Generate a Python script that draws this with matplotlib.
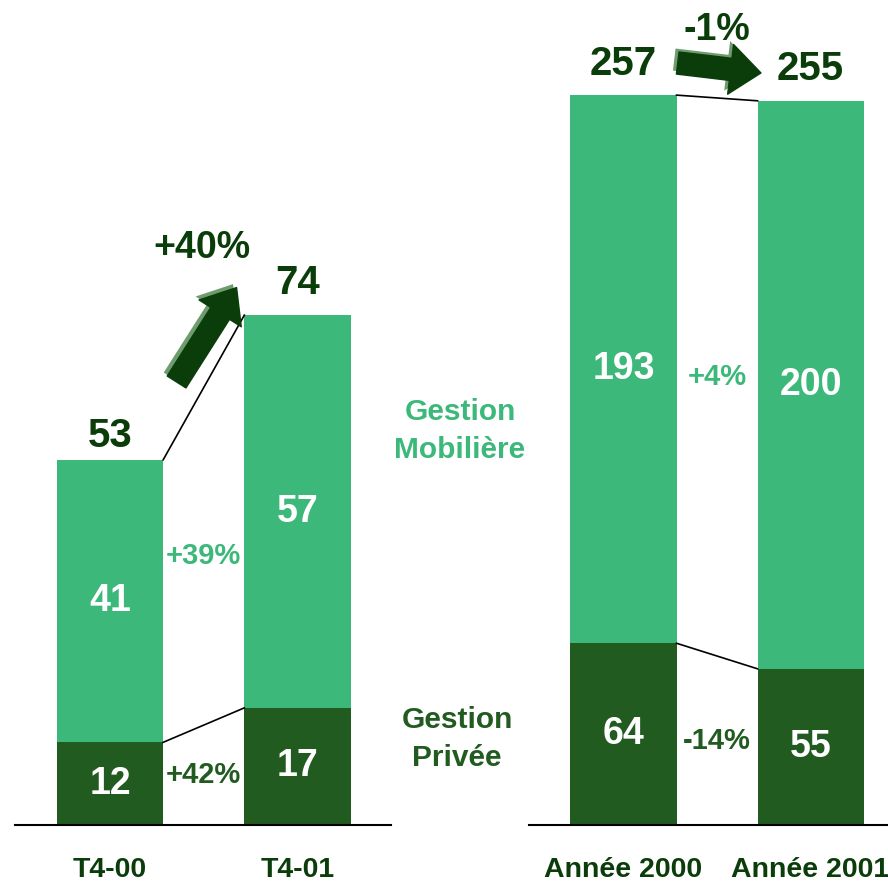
import numpy as np
import matplotlib
matplotlib.use('Agg')
import matplotlib.pyplot as plt
from matplotlib.patches import FancyArrowPatch
import matplotlib.patheffects as pe

plt.rcParams['font.family'] = ['Liberation Sans', 'DejaVu Sans']
plt.rcParams['font.weight'] = 'bold'

# data: quarter panel and year panel
q_labels = ['T4-00', 'T4-01']
q_privee = [12, 17]
q_mobiliere = [41, 57]
q_growth_mob = '+39%'
q_growth_priv = '+42%'
q_growth_total = '+40%'

y_labels = ['Année 2000', 'Année 2001']
y_privee = [64, 55]
y_mobiliere = [193, 200]
y_growth_mob = '+4%'
y_growth_priv = '-14%'
y_growth_total = '-1%'

LIGHT = '#3cb97a'
DARK = '#215b20'
TEXT_DARK = '#0a3d0a'
SHADOW = '#6f9c6f'

W, H = 888, 884
fig = plt.figure(figsize=(W / 100, H / 100), dpi=100)

def px_axes(left, right, base):
    # axes rect from pixel positions (top of axes = top of figure)
    return fig.add_axes([left / W, (H - base) / H, (right - left) / W, base / H])

ax1 = px_axes(15, 391, 825)
ax2 = px_axes(529, 888, 825)
ax1.set_xlim(-0.507, 1.499)
ax1.set_ylim(0, 825 / 6.89)
ax2.set_xlim(-0.505, 1.414)
ax2.set_ylim(0, 825 / 2.84)

bw = 0.567


def draw_panel(ax, labels, priv, mob, g_mob, g_priv, g_tot, tot_off, arrow_off, tot_txt_off):
    x = np.arange(len(labels))
    priv = np.array(priv)
    mob = np.array(mob)
    tot = priv + mob
    ax.bar(x, priv, bw, color=DARK, zorder=2)
    ax.bar(x, mob, bw, bottom=priv, color=LIGHT, zorder=2)

    for i in range(len(x)):
        ax.text(x[i], priv[i] / 2, str(priv[i]), ha='center', va='center',
                color='white', fontsize=27)
        ax.text(x[i], priv[i] + mob[i] / 2, str(mob[i]), ha='center', va='center',
                color='white', fontsize=27)
        ax.annotate(str(tot[i]), (x[i], tot[i]), xytext=(0, tot_off[i] * 0.72),
                    textcoords='offset points', ha='center', va='baseline',
                    color=TEXT_DARK, fontsize=29)

    # connector lines between bars
    xa, xb = x[0] + bw / 2, x[1] - bw / 2
    ax.plot([xa, xb], [priv[0], priv[1]], color='black', lw=1.2, zorder=3)
    ax.plot([xa, xb], [tot[0], tot[1]], color='black', lw=1.2, zorder=3)

    xm = (x[0] + x[1]) / 2
    ax.text(xm, (priv[0] + mob[0] / 2 + priv[1] + mob[1] / 2) / 2, g_mob,
            ha='center', va='center', color=LIGHT, fontsize=21)
    ax.text(xm, (priv[0] + priv[1]) / 4, g_priv,
            ha='center', va='center', color=DARK, fontsize=21)

    # growth arrow with lighter shadow
    (tx, ty), (hx, hy) = arrow_off
    arr = FancyArrowPatch((tx, tot[0] + ty), (hx, tot[1] + hy),
                          arrowstyle='simple,head_length=2.2,head_width=3.6,tail_width=1.6',
                          mutation_scale=10, shrinkA=0, shrinkB=0,
                          color=TEXT_DARK, zorder=4)
    arr.set_path_effects([pe.SimplePatchShadow(offset=(-2.5, 2.5), shadow_rgbFace=SHADOW, alpha=1),
                          pe.Normal()])
    ax.add_patch(arr)
    gx, gy = tot_txt_off
    ax.text(gx, tot[0] + gy, g_tot, ha='center', va='center', color=TEXT_DARK, fontsize=27)

    for s in ['top', 'left', 'right']:
        ax.spines[s].set_visible(False)
    ax.spines['bottom'].set_linewidth(1.5)
    ax.spines['bottom'].set_color('black')
    ax.spines['bottom'].set_zorder(5)
    ax.set_yticks([])
    ax.set_xticks(x)
    ax.set_xticklabels(labels, fontsize=20.5, color=TEXT_DARK, fontweight='bold')
    ax.tick_params(axis='x', length=0, pad=23)
    ax.patch.set_alpha(0)


draw_panel(ax1, q_labels, q_privee, q_mobiliere, q_growth_mob, q_growth_priv, q_growth_total,
           tot_off=[13, 21], arrow_off=((0.355, 11.3), (0.675, 4.0)), tot_txt_off=(0.49, 30.7))
draw_panel(ax2, y_labels, y_privee, y_mobiliere, y_growth_mob, y_growth_priv, y_growth_total,
           tot_off=[20, 21], arrow_off=((0.29, 11.3), (0.735, 9.8)), tot_txt_off=(0.5, 23))

fig.text(460 / W, 1 - 431 / H, 'Gestion\nMobilière', ha='center', va='center',
         color=LIGHT, fontsize=21.5, linespacing=1.42)
fig.text(457 / W, 1 - 739 / H, 'Gestion\nPrivée', ha='center', va='center',
         color=DARK, fontsize=21.5, linespacing=1.42)

fig.savefig('out.png', dpi=100, facecolor='white')
